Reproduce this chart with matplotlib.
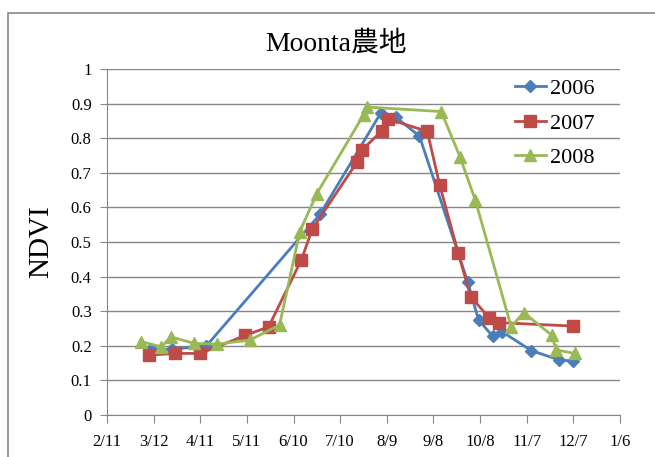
#!/usr/bin/env python
''' NDVI time series for the Moonta farmland, 2006-2008 seasons '''

import datetime as dt
import matplotlib
matplotlib.use('Agg')
import matplotlib.pyplot as plt
from matplotlib.patches import Rectangle

# observation dates (month/day), plotted on a common calendar year
dates_2006 = ['3/10', '3/24', '4/15', '6/27', '8/5', '8/15', '8/30', '9/30',
              '10/7', '10/16', '10/22', '11/10', '11/28', '12/7']
ndvi_2006 = [0.19, 0.19, 0.20, 0.58, 0.872, 0.86, 0.806, 0.385,
             0.275, 0.228, 0.241, 0.186, 0.159, 0.156]

dates_2007 = ['3/9', '3/26', '4/11', '5/10', '5/25', '6/15', '6/22', '7/21',
              '7/24', '8/6', '8/10', '9/4', '9/12', '9/24', '10/2', '10/14',
              '10/20', '12/7']
ndvi_2007 = [0.173, 0.178, 0.178, 0.23, 0.255, 0.448, 0.537, 0.732,
             0.766, 0.822, 0.855, 0.82, 0.665, 0.467, 0.342, 0.28,
             0.267, 0.257]

dates_2008 = ['3/4', '3/17', '3/23', '4/7', '4/22', '5/13', '6/1', '6/14',
              '6/25', '7/25', '7/27', '9/13', '9/25', '10/5', '10/28', '11/5',
              '11/23', '11/26', '12/8']
ndvi_2008 = [0.212, 0.197, 0.226, 0.207, 0.205, 0.217, 0.26, 0.53,
             0.64, 0.867, 0.89, 0.877, 0.747, 0.62, 0.255, 0.296,
             0.231, 0.188, 0.178]

x_start = '2008-02-11'
x_end = '2009-01-06'
tick_step_days = 30
y_ticks = [0, 0.1, 0.2, 0.3, 0.4, 0.5, 0.6, 0.7, 0.8, 0.9, 1]


def to_dates(md_list, year=2008):
    out = []
    for md in md_list:
        m, d = md.split('/')
        out.append(dt.datetime(year, int(m), int(d)))
    return out


serif = ['Liberation Serif', 'Noto Sans CJK JP']
grey = '#868686'

fig = plt.figure(figsize=(6.55, 4.57), dpi=100)
# outer chart border
fig.patches.append(Rectangle((8 / 655, -0.1), 1.2, 1.1 - 13 / 457,
                             transform=fig.transFigure, fill=False,
                             edgecolor=grey, linewidth=1.2))
ax = fig.add_axes([107 / 655, 1 - 415 / 457, 513 / 655, 346 / 457])

ax.plot(to_dates(dates_2006), ndvi_2006, '-D', color='#4A7EBB',
        markersize=6.5, linewidth=2, label='2006')
ax.plot(to_dates(dates_2007), ndvi_2007, '-s', color='#BE4B48',
        markersize=9, linewidth=2, label='2007')
ax.plot(to_dates(dates_2008), ndvi_2008, '-^', color='#98B954',
        markersize=9, linewidth=2, label='2008')

t0 = dt.datetime.fromisoformat(x_start)
t1 = dt.datetime.fromisoformat(x_end)
xticks = []
t = t0
while t <= t1:
    xticks.append(t)
    t += dt.timedelta(days=tick_step_days)
ax.set_xlim(t0, t1)
ax.set_xticks(xticks)
ax.set_xticklabels(['%d/%d' % (d.month, d.day) for d in xticks])
ax.set_ylim(0, 1)
ax.set_yticks(y_ticks)
ax.set_yticklabels(['%g' % v for v in y_ticks])

ax.grid(axis='y', color=grey, linewidth=1)
ax.set_axisbelow(True)
for s in ['top', 'right']:
    ax.spines[s].set_visible(False)
for s in ['left', 'bottom']:
    ax.spines[s].set_color(grey)
ax.tick_params(axis='x', length=6, color=grey, pad=8, labelsize=12)
ax.tick_params(axis='y', length=5, color=grey, pad=6, labelsize=12)
for lab in ax.get_xticklabels() + ax.get_yticklabels():
    lab.set_family(serif)

ax.set_ylabel('NDVI', family=serif, fontsize=21, labelpad=12)
fig.text(336 / 655, 1 - 44 / 457, 'Moonta農地', family=serif,
         fontsize=20, ha='center', va='center')

ax.legend(loc='upper right', frameon=False, prop={'family': serif, 'size': 16},
          handlelength=1.4, handletextpad=0.2, labelspacing=0.62,
          bbox_to_anchor=(0.99, 1.03))

fig.savefig('out.png', dpi=100)
